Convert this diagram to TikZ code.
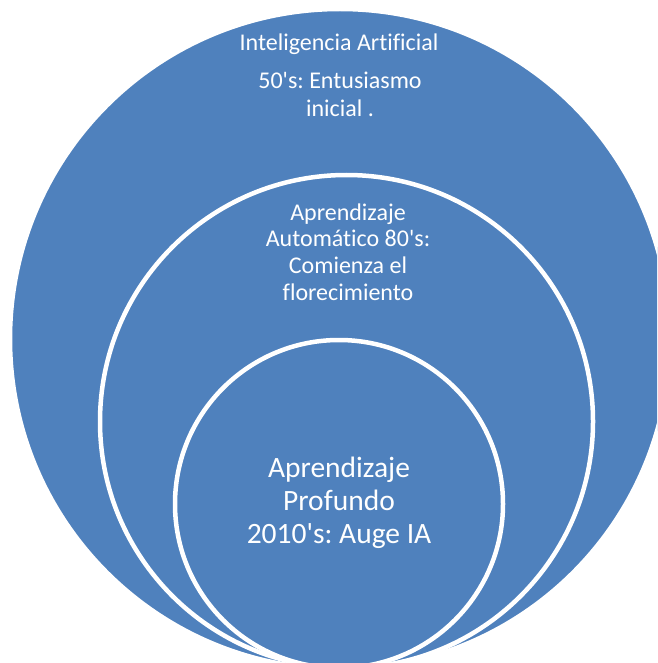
\documentclass[tikz,border=0pt]{standalone}
\usepackage{fontspec}
\setmainfont{Carlito}[Ligatures={NoCommon}]
\definecolor{vennblue}{HTML}{4F81BD}
\frenchspacing

\begin{document}
\begin{tikzpicture}[x=1pt, y=-1pt,
		ring/.style={fill=vennblue, draw=white, line width=4.5pt},
		vennlabel/.style={text=white, align=center, inner sep=0pt}]

		\useasboundingbox (0,0) rectangle (657,663);
		\clip (0,0) rectangle (657,663);

		% --- The Circles ---
		\draw[ring] (340,339) circle[radius=330];
		\draw[ring] (346.5,421.5) circle[radius=246.5];
		\draw[ring] (339,504) circle[radius=164];

		% --- The Labels ---
		% Outer circle
		\node[vennlabel, font=\fontsize{24}{28}\selectfont] (iatitle) at (339,44) {Inteligencia Artificial};
		\node[vennlabel, font=\fontsize{24}{28}\selectfont] (iatext) at (340,94) {50\textquotesingle s: Entusiasmo\\inicial .};

		% Middle circle
		\node[vennlabel, font=\fontsize{24}{26.7}\selectfont] (mltext) at (348,252) {Aprendizaje\\Automático 80\textquotesingle s:\\Comienza el\\florecimiento};

		% Inner circle
		\node[vennlabel, font=\fontsize{29.5}{33}\selectfont] (dltext) at (339,503) {Aprendizaje\\Profundo\\2010\textquotesingle s: Auge IA};

	\end{tikzpicture}
\end{document}
